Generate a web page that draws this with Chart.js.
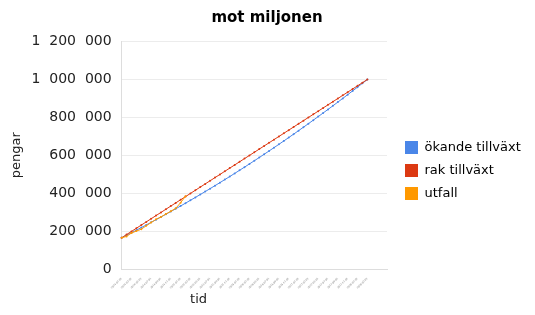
<!DOCTYPE html>
<html>
<head>
<meta charset="utf-8">
<script src="https://cdn.jsdelivr.net/npm/chart.js@4"></script>
<style>
  html, body { margin: 0; padding: 0; background: #fff; }
  #wrap { width: 535px; height: 315px; }
</style>
</head>
<body>
<div id="wrap"><canvas id="chart" width="535" height="315"></canvas></div>
<script>
// datum (månadsvis), sista kategorierna är tomma
const tider = [
  '2014-01-01','2014-02-01','2014-03-01','2014-04-01','2014-05-01','2014-06-01','2014-07-01','2014-08-01','2014-09-01','2014-10-01','2014-11-01','2014-12-01',
  '2015-01-01','2015-02-01','2015-03-01','2015-04-01','2015-05-01','2015-06-01','2015-07-01','2015-08-01','2015-09-01','2015-10-01','2015-11-01','2015-12-01',
  '2016-01-01','2016-02-01','2016-03-01','2016-04-01','2016-05-01','2016-06-01','2016-07-01','2016-08-01','2016-09-01','2016-10-01','2016-11-01','2016-12-01',
  '2017-01-01','2017-02-01','2017-03-01','2017-04-01','2017-05-01','2017-06-01','2017-07-01','2017-08-01','2017-09-01','2017-10-01','2017-11-01','2017-12-01',
  '2018-01-01','2018-02-01','2018-03-01','2018-04-01','2018-05-01','2018-06-01','2018-07-01'
];

const okandeTillvaxt = [
  165000, 178200, 191500, 204900, 218600, 232300, 246200, 260200, 274400, 288700,
  303200, 317800, 332600, 347500, 362500, 377700, 393000, 408500, 424100, 439900,
  455800, 471900, 488000, 504400, 520900, 537500, 554300, 571200, 588200, 605500,
  622800, 640300, 657900, 675700, 693600, 711700, 729900, 748300, 766800, 785400,
  804200, 823100, 842200, 861400, 880800, 900300, 920000, 939700, 959700, 979800,
  1000000
];

const rakTillvaxt = [
  165000, 181700, 198400, 215100, 231800, 248500, 265200, 281900, 298600, 315300,
  332000, 348700, 365400, 382100, 398800, 415500, 432200, 448900, 465600, 482300,
  499000, 515700, 532400, 549100, 565800, 582500, 599200, 615900, 632600, 649300,
  666000, 682700, 699400, 716100, 732800, 749500, 766200, 782900, 799600, 816300,
  833000, 849700, 866400, 883100, 899800, 916500, 933200, 949900, 966600, 983300,
  1000000
];

const utfall = [
  165000, 172000, 190000, 200000, 210000, 228000, 245000, 262000, 275000, 290000,
  305000, 320000, 350000, 384000
];

const FONT = 'DejaVu Sans, Arial, sans-serif';

function pengar(v) {
  // "1  200  000" med dubbla mellanslag som i originalet
  const s = String(v);
  if (v === 0) return '0';
  let out = '';
  for (let i = 0; i < s.length; i++) {
    if (i > 0 && (s.length - i) % 3 === 0) out += '  ';
    out += s[i];
  }
  return out;
}

function serie(label, data, color, order) {
  return {
    label, data, order,
    borderColor: color,
    backgroundColor: color,
    borderWidth: 1,
    pointRadius: 1,
    pointHoverRadius: 2,
    pointBorderWidth: 0,
    tension: 0
  };
}

// flytta legend och rubrik efter layouten, rita "tid" lite till vänster om mitten
const placering = {
  id: 'placering',
  afterLayout(chart) {
    const lg = chart.legend;
    if (lg) {
      lg.left += 8;
      lg.right += 8;
      lg.top += 32;
    }
    const tb = chart.titleBlock;
    if (tb) {
      tb.left += 7;
      tb.right += 7;
    }
  },
  afterDraw(chart) {
    const { ctx, chartArea } = chart;
    const x = chart.scales.x;
    ctx.save();
    ctx.fillStyle = '#222';
    ctx.font = '13px ' + FONT;
    ctx.textAlign = 'center';
    ctx.textBaseline = 'middle';
    ctx.fillText('tid', chartArea.left + chartArea.width * 0.29, x.bottom - 9);
    ctx.restore();
  }
};

new Chart(document.getElementById('chart'), {
  type: 'line',
  data: {
    labels: tider,
    datasets: [
      serie('ökande tillväxt', okandeTillvaxt, '#4a86e8', 2),
      serie('rak tillväxt', rakTillvaxt, '#dc3912', 1),
      serie('utfall', utfall, '#ff9900', 0)
    ]
  },
  plugins: [placering],
  options: {
    responsive: false,
    animation: false,
    layout: { padding: { left: 6, right: 21, top: 0, bottom: 6 } },
    plugins: {
      title: {
        display: true,
        text: 'mot miljonen',
        color: '#000',
        font: { family: FONT, size: 15, weight: 'bold', lineHeight: 1.04 },
        padding: { top: 10, bottom: 16 }
      },
      legend: {
        position: 'right',
        labels: {
          color: '#222',
          font: { family: FONT, size: 13 },
          boxWidth: 13,
          boxHeight: 13,
          padding: 10,
          generateLabels(chart) {
            return chart.data.datasets.map((ds, i) => ({
              text: ds.label,
              fillStyle: ds.borderColor,
              strokeStyle: ds.borderColor,
              lineWidth: 0,
              datasetIndex: i
            }));
          }
        }
      },
      tooltip: { enabled: false }
    },
    scales: {
      x: {
        offset: false,
        title: {
          // platshållare, själva texten ritas i pluginet
          display: true, text: 'tid', color: 'rgba(0,0,0,0)',
          font: { family: FONT, size: 13 }, padding: { top: 3, bottom: 1 }
        },
        grid: { display: false },
        border: { color: '#dddddd' },
        ticks: {
          autoSkip: false,
          maxRotation: 45,
          minRotation: 45,
          color: '#777',
          font: { family: FONT, size: 2.5 },
          padding: 0,
          callback(val, i) {
            return (i % 2 === 0 && i <= 50) ? this.getLabelForValue(val) : '';
          }
        }
      },
      y: {
        min: 0,
        max: 1200000,
        title: {
          display: true, text: 'pengar', color: '#222',
          font: { family: FONT, size: 13, lineHeight: 1 }, padding: { top: 4.5, bottom: -2 }
        },
        grid: { color: '#ececec', drawTicks: false },
        border: { color: '#dddddd' },
        ticks: {
          stepSize: 200000,
          color: '#222',
          font: { family: FONT, size: 14 },
          padding: 10,
          callback: v => pengar(v)
        }
      }
    }
  }
});
</script>
</body>
</html>
